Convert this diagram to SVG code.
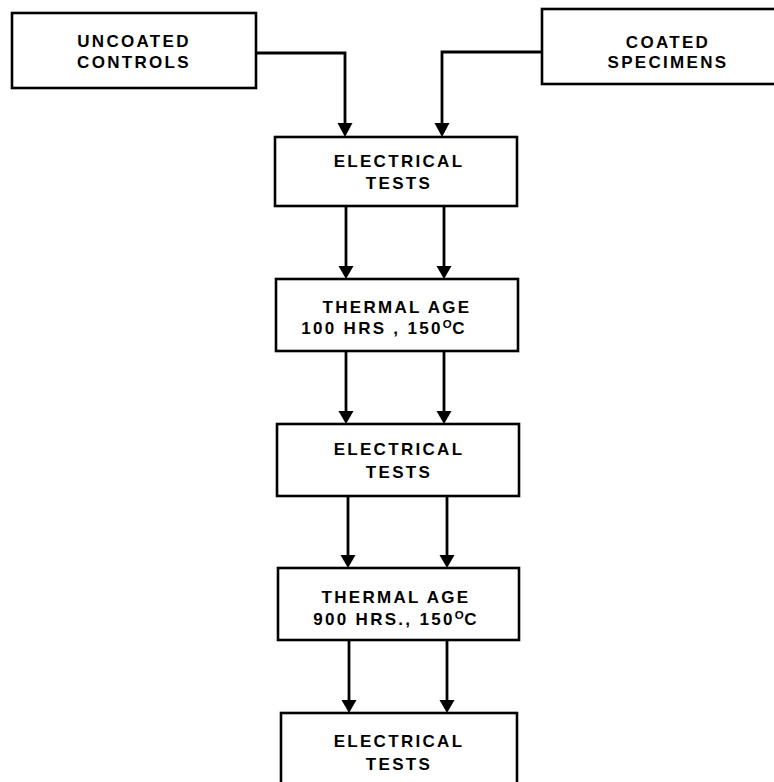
<svg xmlns="http://www.w3.org/2000/svg" width="774" height="782" viewBox="0 0 774 782">
<style>
.box{fill:#fff;stroke:#000;stroke-width:2.6}
.t{font-family:"Liberation Sans",Arial,sans-serif;font-weight:bold;font-size:17px;letter-spacing:2.3px;fill:#000;text-anchor:middle}
.sup{font-size:11.5px;letter-spacing:0.5px}
.c{fill:none;stroke:#000;stroke-width:2.8}
</style>
<rect width="774" height="782" fill="#fff"/>
<g id="connectors">
<path class="c" d="M256,53 H345 V123" />
<path d="M337.5,123 H352.5 L345,137 Z"/>
<path class="c" d="M542,52 H442 V123" />
<path d="M434.5,123 H449.5 L442,137 Z"/>
<path class="c" d="M346,206 V266"/>
<path d="M338.5,266 H353.5 L346,279 Z"/>
<path class="c" d="M444,206 V266"/>
<path d="M436.5,266 H451.5 L444,279 Z"/>
<path class="c" d="M346,351 V411"/>
<path d="M338.5,411 H353.5 L346,424 Z"/>
<path class="c" d="M444,351 V411"/>
<path d="M436.5,411 H451.5 L444,424 Z"/>
<path class="c" d="M348,496 V555"/>
<path d="M340.5,555 H355.5 L348,568 Z"/>
<path class="c" d="M447,496 V555"/>
<path d="M439.5,555 H454.5 L447,568 Z"/>
<path class="c" d="M349,640 V700"/>
<path d="M341.5,700 H356.5 L349,713 Z"/>
<path class="c" d="M447,640 V700"/>
<path d="M439.5,700 H454.5 L447,713 Z"/>
</g>
<g id="uncoated">
<rect class="box" x="12" y="13" width="244" height="75"/>
<text class="t" x="134" y="47">UNCOATED</text>
<text class="t" x="134" y="68">CONTROLS</text>
</g>
<g id="coated">
<rect class="box" x="542" y="9" width="240" height="75"/>
<text class="t" x="668" y="48">COATED</text>
<text class="t" x="668" y="68">SPECIMENS</text>
</g>
<g id="elec1">
<rect class="box" x="275" y="137" width="242" height="69"/>
<text class="t" x="399" y="167">ELECTRICAL</text>
<text class="t" x="399" y="189">TESTS</text>
</g>
<g id="thermal1">
<rect class="box" x="276" y="279" width="242" height="72"/>
<text class="t" x="397" y="313">THERMAL AGE</text>
<text class="t" x="384" y="334">100 HRS , 150<tspan class="sup" dy="-6">O</tspan><tspan dy="6">C</tspan></text>
</g>
<g id="elec2">
<rect class="box" x="277" y="424" width="242" height="72"/>
<text class="t" x="399" y="455">ELECTRICAL</text>
<text class="t" x="399" y="478">TESTS</text>
</g>
<g id="thermal2">
<rect class="box" x="278" y="568" width="241" height="72"/>
<text class="t" x="396" y="603">THERMAL AGE</text>
<text class="t" x="396" y="625">900 HRS., 150<tspan class="sup" dy="-6">O</tspan><tspan dy="6">C</tspan></text>
</g>
<g id="elec3">
<rect class="box" x="281" y="713" width="236" height="80"/>
<text class="t" x="399" y="747">ELECTRICAL</text>
<text class="t" x="399" y="770">TESTS</text>
</g>
</svg>
